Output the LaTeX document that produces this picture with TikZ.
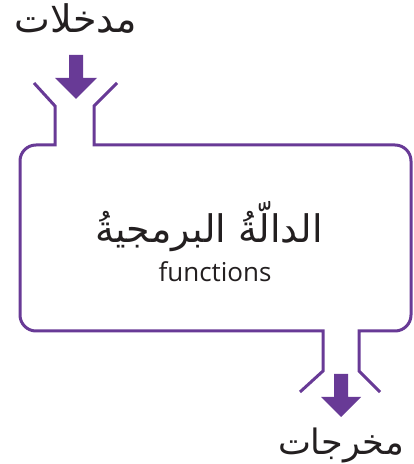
\documentclass[tikz,border=0pt]{standalone}
\usepackage{fontspec}
\setmainfont{Open Sans}
\newfontfamily\arabicfont[Script=Arabic]{DejaVu Sans}
\TeXXeTstate=1
\definecolor{purp}{RGB}{104,58,150}
\definecolor{ink}{RGB}{35,31,32}
\begin{document}
\begin{tikzpicture}[x=1pt,y=1pt,
  outline/.style={draw=purp,line width=3pt,line join=miter},
  flowarrow/.style={fill=purp},
  artext/.style={text=ink,inner sep=0pt,anchor=base},
  latext/.style={text=ink,inner sep=0pt,anchor=base,font=\fontsize{26}{30}\selectfont}]
\useasboundingbox (0,0) rectangle (414,464);
% box outline with the two funnels
\coordinate (inL) at (34,381);
\coordinate (inR) at (117,381);
\coordinate (outL) at (300,72);
\coordinate (outR) at (380,72);
\draw[outline] (inL) -- (55,358) -- (55,319) -- (36,319)
  arc[start angle=90,end angle=180,radius=16] -- (20,149)
  arc[start angle=180,end angle=270,radius=16] -- (323,133) -- (323,93) -- (outL);
\draw[outline] (outR) -- (359,93) -- (359,133) -- (395,133)
  arc[start angle=-90,end angle=0,radius=16] -- (411,303)
  arc[start angle=0,end angle=90,radius=16] -- (94,319) -- (94,358) -- (inR);
% arrows
\coordinate (ina) at (76,409);
\coordinate (outa) at (341,90);
\fill[flowarrow] (ina) ++(-7,0) -- ++(0,-23) -- ++(-14,0) -- ++(21,-21) -- ++(21,21) -- ++(-14,0) -- ++(0,23) -- cycle;
\fill[flowarrow] (outa) ++(-7,0) -- ++(0,-23) -- ++(-13,0) -- ++(20,-20) -- ++(20,20) -- ++(-13,0) -- ++(0,23) -- cycle;
% texts
\node[artext,font=\arabicfont\fontsize{38}{43}\selectfont] (inputs) at (76,431) {\beginR مدخلات\endR};
\node[artext,font=\arabicfont\fontsize{35}{40}\selectfont] (outputs) at (341,9) {\beginR مخرجات\endR};
\node[artext,font=\arabicfont\fontsize{38}{43}\selectfont] (fname) at (209,221) {\beginR الدالّةُ البرمجيةُ\endR};
\node[latext] (fen) at (215,182) {functions};
\end{tikzpicture}
\end{document}
